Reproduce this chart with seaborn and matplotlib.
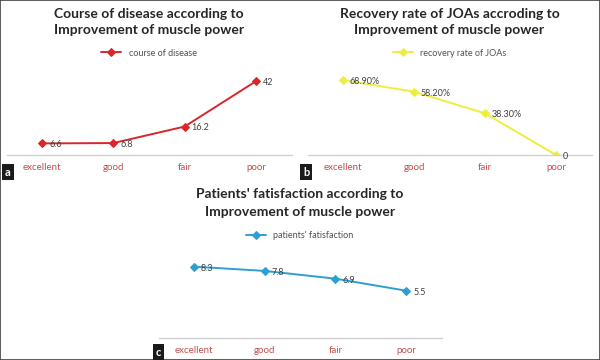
import pandas as pd
import matplotlib.pyplot as plt
import seaborn as sns
from matplotlib.patches import Rectangle

## grades of improvement of muscle power
grades = ["excellent", "good", "fair", "poor"]

## values
course_of_disease = [6.6, 6.8, 16.2, 42]
recovery_rate = [68.9, 58.2, 38.3, 0]
recovery_labels = ["68.90%", "58.20%", "38.30%", "0"]
satisfaction = [8.3, 7.8, 6.9, 5.5]

sns.set_theme(style="white")
plt.rcParams["font.family"] = ["Lato", "DejaVu Sans"]

W, H = 600, 360
fig = plt.figure(figsize=(6, 3.6), dpi=100)


def px_axes(left, top, width, height):
    # place an axes with pixel coords measured from the top-left corner
    return fig.add_axes([left / W, 1 - (top + height) / H, width / W, height / H])


def panel(ax, values, labels, color, name, title, ymax, title_y, legend_y,
          letter, letter_xy):
    df = pd.DataFrame({"grade": grades, "value": values})
    sns.lineplot(data=df, x="grade", y="value", color=color, marker="D",
                 markersize=4, markeredgecolor=color, linewidth=1.4,
                 sort=False, label=name, ax=ax)
    for i, (v, lab) in enumerate(zip(values, labels)):
        ax.annotate(lab, (i, v), xytext=(5, -1), textcoords="offset points",
                    fontsize=6.5, color="#404040", va="center", ha="left")
    ax.set_xlim(-0.5, 3.5)
    ax.set_ylim(0, ymax)
    ax.set_xlabel("")
    ax.set_ylabel("")
    ax.set_yticks([])
    ax.tick_params(axis="x", length=0, pad=6, labelsize=7, labelcolor="#c0504d")
    for s in ["top", "left", "right"]:
        ax.spines[s].set_visible(False)
    ax.spines["bottom"].set_color("#d0d0d0")
    ax.spines["bottom"].set_linewidth(1.0)

    # title and legend sit at fixed pixel heights above the plot
    pos = ax.get_position()
    cx = pos.x0 + pos.width / 2
    leg = ax.legend(loc="center", bbox_to_anchor=(cx, 1 - legend_y / H),
                    bbox_transform=fig.transFigure, frameon=False,
                    fontsize=6.5, handlelength=2.2)
    for t in leg.get_texts():
        t.set_color("#505050")
    fig.text(cx, 1 - title_y / H, title, fontsize=10, fontweight="bold",
             color="#262626", ha="center", va="center", linespacing=1.5)
    fig.text(letter_xy[0] / W, 1 - letter_xy[1] / H, letter, color="white",
             fontsize=8, fontweight="bold", ha="left", va="center",
             bbox=dict(boxstyle="square,pad=0.25", fc="#1a1a1a", ec="none"))


ax_a = px_axes(6.5, 76, 285, 79)
panel(ax_a, course_of_disease, [str(v) for v in course_of_disease], "#d9262b",
      "course of disease",
      "Course of disease according to\nImprovement of muscle power",
      45, 22, 53, "a", (5, 172))

ax_b = px_axes(307.5, 68, 284, 87)
panel(ax_b, recovery_rate, recovery_labels, "#eeee3c", "recovery rate of JOAs",
      "Recovery rate of JOAs accroding to\nImprovement of muscle power",
      80, 22, 53, "b", (303, 172))

ax_c = px_axes(158.5, 252, 283, 86)
panel(ax_c, satisfaction, [str(v) for v in satisfaction], "#2e9fd0",
      "patients' fatisfaction",
      "Patients' fatisfaction according to\nImprovement of muscle power",
      10, 203, 236, "c", (156, 352))

## thin frame around the whole picture
fig.patches.append(Rectangle((0, 0), 1, 1, transform=fig.transFigure,
                             fill=False, ec="#404040", lw=1.2))

fig.savefig("out.png", dpi=100)
